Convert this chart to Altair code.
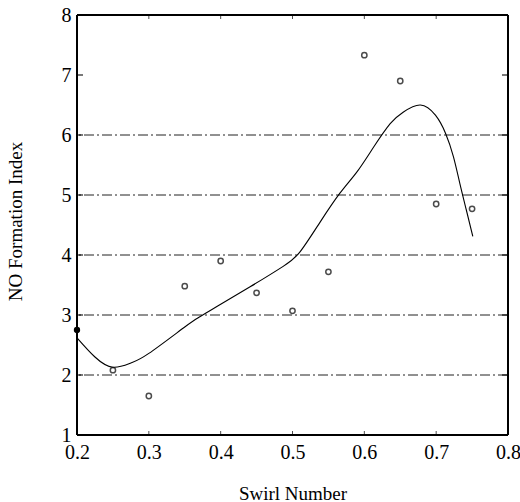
import altair as alt
import pandas as pd

# Measured points
swirl = [0.20, 0.25, 0.30, 0.35, 0.40, 0.45, 0.50, 0.55, 0.60, 0.65, 0.70, 0.75]
no_index = [2.75, 2.08, 1.65, 3.48, 3.90, 3.37, 3.07, 3.72, 7.33, 6.90, 4.85, 4.77]

# Fitted curve
fit_x = [0.20, 0.225, 0.25, 0.275, 0.30, 0.35, 0.371, 0.40, 0.441, 0.487, 0.511,
         0.538, 0.566, 0.590, 0.613, 0.636, 0.654, 0.678, 0.699, 0.713, 0.724,
         0.733, 0.742, 0.751]
fit_y = [2.62, 2.30, 2.13, 2.20, 2.36, 2.80, 2.97, 3.18, 3.47, 3.81, 4.06,
         4.54, 5.03, 5.39, 5.80, 6.19, 6.38, 6.50, 6.33, 6.03, 5.64,
         5.19, 4.75, 4.31]

grid_levels = [2, 3, 4, 5, 6]
x_tick_values = [0.2, 0.3, 0.4, 0.5, 0.6, 0.7, 0.8]
y_tick_values = [1, 2, 3, 4, 5, 6, 7, 8]
x_inner_ticks = [0.3, 0.4, 0.5, 0.6, 0.7]
y_inner_ticks = [2, 3, 4, 5, 6, 7]

pts = pd.DataFrame({"x": swirl, "y": no_index})
first_pt = pts.iloc[:1]
open_pts = pts.iloc[1:]
fit = pd.DataFrame({"x": fit_x, "y": fit_y})
grid = pd.DataFrame({"y": grid_levels})

x_min, x_max = x_tick_values[0], x_tick_values[-1]
y_min, y_max = y_tick_values[0], y_tick_values[-1]

frame_h = pd.DataFrame({"y": [y_min, y_max]})
frame_v = pd.DataFrame({"x": [x_min, x_max]})
left_ticks = pd.DataFrame({"x": [x_min] * len(y_inner_ticks), "y": y_inner_ticks})
right_ticks = pd.DataFrame({"x": [x_max] * len(y_inner_ticks), "y": y_inner_ticks})
bottom_ticks = pd.DataFrame({"x": x_inner_ticks, "y": [y_min] * len(x_inner_ticks)})
top_ticks = pd.DataFrame({"x": x_inner_ticks, "y": [y_max] * len(x_inner_ticks)})

FONT = "Liberation Serif"
xscale = alt.Scale(domain=[x_min, x_max], nice=False, zero=False)
yscale = alt.Scale(domain=[y_min, y_max], nice=False, zero=False)

xaxis = alt.Axis(values=x_tick_values, format=".1f", title="Swirl Number",
                 grid=False, domain=False, ticks=False,
                 labelFont=FONT, labelFontSize=20, labelColor="black",
                 labelPadding=7, labelFlush=False, labelOverlap=False,
                 titleFont=FONT, titleFontSize=19, titleFontWeight="normal",
                 titleColor="black", titleY=58, titleBaseline="middle")
yaxis = alt.Axis(values=y_tick_values, format="d", title="NO Formation Index",
                 grid=False, domain=False, ticks=False,
                 labelFont=FONT, labelFontSize=20, labelColor="black",
                 labelPadding=6, labelFlush=False, labelOverlap=False,
                 titleFont=FONT, titleFontSize=19, titleFontWeight="normal",
                 titleColor="black", titleX=-62, titleY=206,
                 titleBaseline="middle")

X = lambda: alt.X("x:Q", scale=xscale, axis=xaxis)
Y = lambda: alt.Y("y:Q", scale=yscale, axis=yaxis)

grid_layer = alt.Chart(grid).mark_rule(
    color="#222222", strokeWidth=1, strokeDash=[10, 3, 2, 3]
).encode(y=Y())

frame_h_layer = alt.Chart(frame_h).mark_rule(
    color="black", strokeWidth=2
).encode(y=Y())
frame_v_layer = alt.Chart(frame_v).mark_rule(
    color="black", strokeWidth=2
).encode(x=X())

curve = alt.Chart(fit).mark_line(
    color="black", strokeWidth=1.1, interpolate="natural"
).encode(x=X(), y=Y())

open_layer = alt.Chart(open_pts).mark_point(
    shape="circle", filled=False, color="black", size=28, strokeWidth=1.5
).encode(x=X(), y=Y())

first_layer = alt.Chart(first_pt).mark_point(
    shape="circle", filled=True, color="black", size=40, opacity=1
).encode(x=X(), y=Y())

TL = 6
lt = alt.Chart(left_ticks).mark_tick(
    orient="horizontal", color="black", size=TL, thickness=1.5, xOffset=TL / 2
).encode(x=X(), y=Y())
rt = alt.Chart(right_ticks).mark_tick(
    orient="horizontal", color="black", size=TL, thickness=1.5, xOffset=-TL / 2
).encode(x=X(), y=Y())
bt = alt.Chart(bottom_ticks).mark_tick(
    orient="vertical", color="black", size=4, thickness=1, yOffset=-2
).encode(x=X(), y=Y())
tt = alt.Chart(top_ticks).mark_tick(
    orient="vertical", color="black", size=4, thickness=1, yOffset=2
).encode(x=X(), y=Y())

chart = alt.layer(
    grid_layer, frame_h_layer, frame_v_layer, curve, open_layer, first_layer,
    lt, rt, bt, tt
).properties(
    width=431, height=420,
    autosize=alt.AutoSizeParams(type="none"),
    padding={"left": 77, "top": 15, "right": 12, "bottom": 67},
).configure_view(
    stroke=None
)

chart.save("out.html", embed_options={"renderer": "svg", "actions": False})
